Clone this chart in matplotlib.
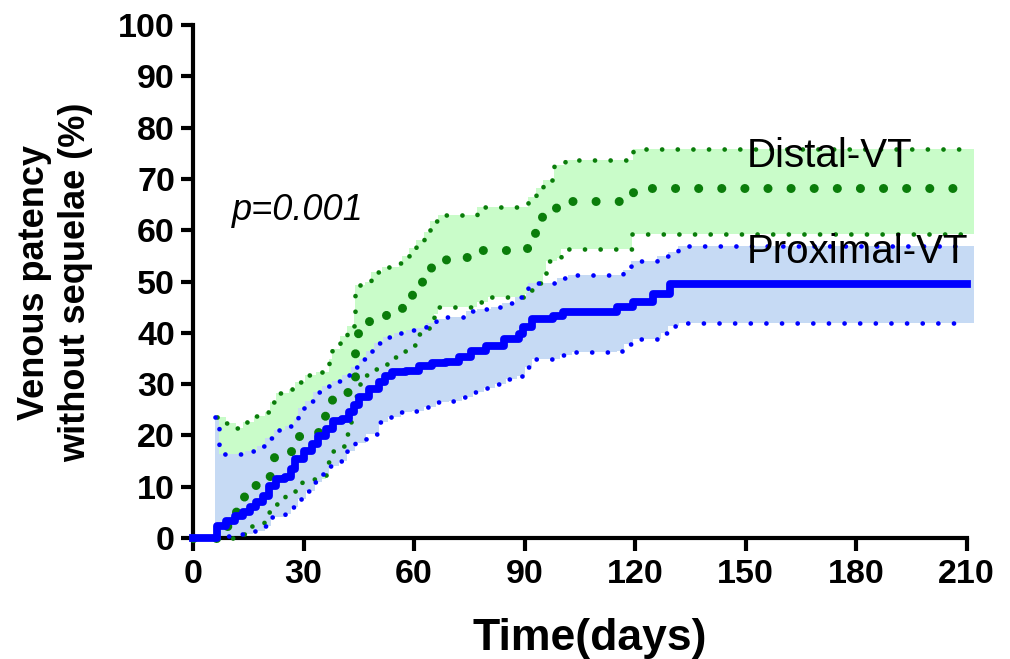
import numpy as np
import matplotlib
matplotlib.use("Agg")
import matplotlib.pyplot as plt

plt.rcParams['font.family'] = ['Liberation Sans', 'DejaVu Sans']

# Proximal-VT (blue): median curve and 95% CI bounds, step-post
prox_x = [0, 6.5, 9, 11.5, 13.6, 15.5, 17, 19, 20.5, 22.4, 25, 26.7, 27.8, 30, 32.2, 34, 36, 38,
          40.4, 42.3, 43.6, 45, 47.7, 50.5, 52, 54, 57.8, 61.4, 65, 68.7, 72.3, 75.5, 79.6, 84.5,
          88.6, 89.5, 92, 97.6, 100.4, 115, 119.5, 125, 129.5, 210]
prox_y = [0, 2.3, 3.3, 4.3, 5, 6, 7, 8.2, 10.1, 11.5, 11.9, 13.4, 15.4, 16.9, 18.3, 19.8, 21.2, 22.8,
          23.2, 24.5, 26, 27.4, 29, 30.4, 31.5, 32.3, 32.5, 33.5, 34.2, 34.4, 35.2, 36.4, 37.4, 38.7,
          39.7, 41.2, 42.6, 43.2, 44, 45, 46, 47.5, 49.6, 49.6]

prox_hi_x = [6, 7, 14, 17.5, 19.6, 22, 25, 27.3, 28.4, 30.5, 32.7, 35, 37.6, 40.4, 42.8, 45, 47, 49,
             51.5, 54.5, 57.8, 60.5, 63.3, 66, 68.7, 74, 77, 81, 84, 87.3, 90.3, 91, 98.7, 101.7,
             116.7, 119, 126, 129, 131.7, 210]
prox_hi_y = [23.5, 16.3, 17, 18, 19.5, 21, 21.8, 23.2, 25.3, 26.7, 28.4, 29.6, 30.7, 31.7, 33.3, 34.8,
             36.4, 38.1, 39.1, 39.9, 40.5, 41, 42, 42.6, 43, 44.2, 44.6, 45.1, 45.9, 46.9, 47.8, 49.8,
             50.6, 51.2, 52.3, 53.9, 55, 55.8, 57, 57]

prox_lo_x = [6, 9.5, 13, 16.4, 19.6, 21.3, 25, 26.7, 28.6, 30.8, 33, 35, 36.8, 39.5, 41.7, 44, 47,
             50.5, 53, 56.5, 59.5, 62.7, 66, 69.5, 73, 76, 79, 82, 85, 88, 90, 92, 99.5, 103, 115,
             117, 119.5, 127, 129, 132, 210]
prox_lo_y = [0, 0.4, 0.8, 1.4, 2.3, 4.1, 4.7, 6, 7.6, 9.1, 10.9, 12.5, 14, 15, 16.9, 18.5, 20.2,
             22.6, 23.5, 24.5, 24.7, 25.5, 26.5, 26.7, 27.4, 28.4, 29.2, 30, 30.9, 31.5, 33.3, 34.8,
             35.6, 36.2, 36.4, 37.9, 38.7, 40, 41.4, 42, 42]

# Distal-VT (green)
dist_x = [0, 7, 8.7, 11.7, 13.9, 16.9, 20.7, 22, 26.7, 28.9, 33.5, 35.7, 37.6, 41.7, 43.9, 44.7,
          47.7, 52.4, 56.7, 59.5, 62.2, 64.6, 68.7, 77, 90.6, 92.8, 94.7, 98.5, 103, 119.5, 210]
dist_y = [0, 0, 2.3, 5.3, 8.2, 10.3, 12.1, 15.8, 16.9, 19.8, 20.6, 24.1, 27.2, 28.4, 36.2, 40,
          42.4, 43.6, 45.1, 47.5, 50.2, 53.1, 54.7, 56.2, 56.6, 59.7, 62.8, 64.6, 65.6, 68.3, 68.3]

dist_hi_x = [6.5, 9, 11.7, 13.6, 16.6, 19.6, 21, 22.4, 26, 27.8, 30.5, 33.5, 36.8, 37.6, 40, 41.7,
             43.6, 43.9, 46.6, 48.3, 51.3, 56, 56.7, 58.5, 60.5, 62.7, 64.4, 66.5, 77, 91, 93, 95,
             98, 101, 119.5, 210]
dist_hi_y = [23.5, 22.5, 21.4, 22.6, 23.7, 24.5, 26.5, 28.2, 29, 30.5, 31.7, 32.3, 34.8, 36.8, 39.3,
             41.4, 44, 49.4, 50, 51.8, 52.9, 53.7, 54.9, 56.5, 58, 59.7, 61.7, 63, 64.6, 66.5, 68.3,
             69.8, 72.8, 73.7, 75.8, 75.8]

dist_lo_x = [6.5, 10.9, 15.8, 19.4, 20.5, 22.6, 25, 27.8, 29.7, 36, 36.5, 37.6, 40.6, 41.7, 42.3,
             42.8, 43.6, 44.5, 47, 49.6, 52, 54.5, 56.7, 59, 60.5, 63.3, 65.5, 66.5, 77, 80, 90, 91,
             93, 95, 95.8, 98.7, 100, 119.2, 210]
dist_lo_y = [0, 0.8, 2.3, 3.3, 5, 6.6, 8.5, 9.1, 11.5, 13, 14.8, 16.9, 17.9, 20.2, 22.6, 24.5, 27.6,
             30, 31.7, 32.9, 33.9, 35.2, 36.4, 37.7, 39.7, 41, 43.6, 45.1, 46, 46.9, 47.6, 48.4,
             49.8, 51.4, 53.9, 54.5, 56.4, 59.3, 59.3]

x_ticks = [0, 30, 60, 90, 120, 150, 180, 210]
y_ticks = [0, 10, 20, 30, 40, 50, 60, 70, 80, 90, 100]


def step_at(xs, ys, grid):
    xs = np.asarray(xs)
    ys = np.asarray(ys)
    idx = np.clip(np.searchsorted(xs, grid, side='right') - 1, 0, len(ys) - 1)
    return ys[idx]


fig = plt.figure(figsize=(10.1, 6.59), dpi=100)
ax = fig.add_axes([193 / 1010, 1 - 538 / 659, 781 / 1010, 513 / 659])

green_fill = '#c9fcc9'
blue_fill = '#c6daf4'
green = '#0a7d0a'
blue = '#0000ff'

# shaded confidence bands
g_grid = np.union1d(np.union1d(dist_hi_x, dist_lo_x), [212])
g_grid = g_grid[g_grid >= dist_hi_x[0]]
ax.fill_between(g_grid, step_at(dist_lo_x, dist_lo_y, g_grid), step_at(dist_hi_x, dist_hi_y, g_grid),
                step='post', color=green_fill, lw=0, zorder=1, clip_on=False)
b_grid = np.union1d(np.union1d(prox_hi_x, prox_lo_x), [212])
b_grid = b_grid[b_grid >= prox_hi_x[0]]
ax.fill_between(b_grid, step_at(prox_lo_x, prox_lo_y, b_grid), step_at(prox_hi_x, prox_hi_y, b_grid),
                step='post', color=blue_fill, lw=0, zorder=2, clip_on=False)

small_dots = dict(lw=3.4, linestyle=(0, (0.01, 3.3)), dash_capstyle='round', clip_on=False)
ax.plot(dist_hi_x, dist_hi_y, drawstyle='steps-post', color=green, zorder=3, **small_dots)
ax.plot(dist_lo_x, dist_lo_y, drawstyle='steps-post', color=green, zorder=3, **small_dots)
ax.plot(dist_x, dist_y, drawstyle='steps-post', color=green, lw=6.5, linestyle=(0, (0.01, 2.55)),
        dash_capstyle='round', zorder=4, clip_on=False)
ax.plot(prox_hi_x, prox_hi_y, drawstyle='steps-post', color=blue, zorder=5, **small_dots)
ax.plot(prox_lo_x, prox_lo_y, drawstyle='steps-post', color=blue, zorder=5, **small_dots)
ax.plot(prox_x, prox_y, drawstyle='steps-post', color=blue, lw=5.6, solid_joinstyle='round',
        zorder=6, clip_on=False)

ax.text(150.3, 72.3, 'Distal-VT', fontsize=29, va='baseline', ha='left', zorder=7)
ax.text(150.3, 53.6, 'Proximal-VT', fontsize=29, va='baseline', ha='left', zorder=7)
ax.text(10.6, 62, 'p=0.001', fontsize=26, style='italic', va='baseline', ha='left')

ax.set_xlim(0, 212)
ax.set_ylim(0, 100)
ax.set_xticks(x_ticks)
ax.set_yticks(y_ticks)
ax.spines['top'].set_visible(False)
ax.spines['right'].set_visible(False)
ax.spines['bottom'].set_bounds(0, 210)
for s in ['left', 'bottom']:
    ax.spines[s].set_linewidth(3)
    ax.spines[s].set_capstyle('projecting')
ax.tick_params(width=3, length=9, labelsize=24.5)
ax.tick_params(axis='x', pad=6)
ax.tick_params(axis='y', pad=4)
for lab in ax.get_xticklabels() + ax.get_yticklabels():
    lab.set_fontweight('bold')

fig.text(590 / 1010, 1 - 650 / 659, 'Time(days)', fontsize=32, fontweight='bold',
         ha='center', va='baseline')
fig.text(55 / 1010, 1 - 282 / 659, 'Venous patency\nwithout sequelae (%)', fontsize=26,
         fontweight='bold', rotation=90, ha='center', va='center', multialignment='center')

fig.savefig('out.png', dpi=100)
